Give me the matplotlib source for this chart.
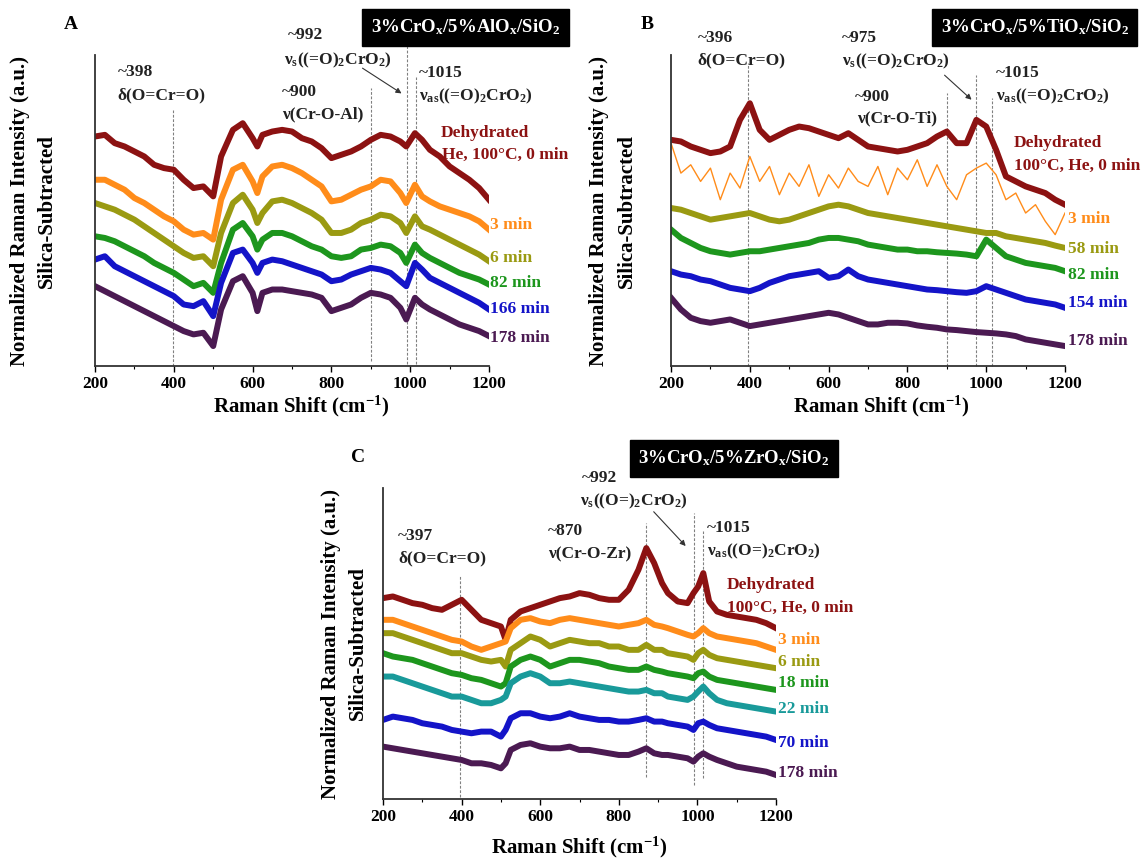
import matplotlib
matplotlib.use("Agg")
import matplotlib.pyplot as plt

plt.rcParams['font.family'] = ['Liberation Serif', 'DejaVu Serif']
plt.rcParams['font.weight'] = 'bold'
plt.rcParams['mathtext.fontset'] = 'custom'
plt.rcParams['mathtext.rm'] = 'Liberation Serif:bold'
plt.rcParams['mathtext.it'] = 'Liberation Serif:bold:italic'
plt.rcParams['mathtext.bf'] = 'Liberation Serif:bold'

# ---------------- data (a.u.) ----------------
# panel A : 3%CrOx/5%AlOx/SiO2
shift_a = [200, 225, 250, 275, 300, 325, 350, 375, 400, 425, 450, 475, 500,
           520, 550, 575, 600, 612, 625,
           650, 675, 700, 725, 750, 775, 800, 825, 850, 875, 900, 925, 950, 975,
           990, 1012, 1030,
           1050, 1075, 1100, 1125, 1150, 1175, 1200]
a_dehyd = [690, 695, 670, 660, 645, 630, 605, 595, 590, 560, 535, 540, 510,
           630, 710, 730, 685, 660, 695,
           705, 710, 705, 685, 675, 655, 625, 635, 645, 660, 680, 695, 690, 675,
           660, 700, 680,
           650, 630, 600, 580, 560, 535, 500]
a_3min = [560, 560, 545, 530, 505, 490, 470, 450, 435, 410, 395, 400, 380,
          500, 590, 605, 555, 520, 570,
          600, 605, 595, 580, 560, 540, 495, 500, 515, 530, 540, 560, 555, 520,
          490, 545, 510,
          495, 480, 470, 460, 450, 435, 410]
a_6min = [490, 480, 470, 455, 440, 420, 400, 380, 360, 340, 325, 330, 300,
          400, 490, 515, 470, 430, 460,
          495, 500, 490, 475, 460, 440, 400, 400, 410, 430, 440, 455, 450, 430,
          400, 450, 420,
          410, 395, 380, 365, 350, 335, 315]
a_82min = [390, 385, 375, 360, 345, 330, 310, 295, 280, 260, 240, 250, 220,
           310, 410, 430, 390, 350, 380,
           400, 400, 390, 375, 360, 350, 330, 325, 330, 350, 355, 365, 360, 340,
           310, 365, 340,
           325, 310, 295, 280, 270, 260, 245]
a_166min = [320, 330, 300, 285, 270, 255, 240, 225, 210, 185, 180, 195, 150,
            250, 340, 350, 310, 280, 310,
            320, 315, 305, 295, 285, 275, 255, 260, 275, 285, 295, 290, 280, 255,
            240, 310, 290,
            265, 250, 235, 220, 205, 190, 170]
a_178min = [240, 225, 210, 195, 180, 165, 150, 135, 120, 105, 95, 100, 60,
            170, 255, 270, 220, 165, 220,
            230, 230, 225, 220, 215, 205, 165, 175, 185, 205, 220, 215, 205, 175,
            140, 205, 185,
            170, 155, 140, 125, 115, 105, 90]

# panel B : 3%CrOx/5%TiOx/SiO2
shift_b = [200, 225, 250, 275, 300, 325, 350, 375, 400, 425, 450, 475, 500,
           525, 550, 575, 600, 625, 650, 675, 700, 725, 750, 775, 800, 825,
           850, 875, 900, 925, 950, 975, 1000, 1025, 1050, 1075, 1100, 1125,
           1150, 1175, 1200]
b_dehyd = [680, 675, 660, 650, 640, 645, 660, 740, 790, 710, 680, 695, 710,
           720, 715, 705, 695, 685, 700, 680, 660, 655, 650, 645, 650, 660,
           670, 690, 705, 670, 670, 740, 720, 650, 570, 555, 540, 530,
           520, 500, 485]
b_3min = [670, 580, 605, 555, 595, 500, 580, 535, 630, 555, 600, 515, 580,
          540, 605, 510, 575, 535, 595, 555, 540, 600, 515, 595, 560, 620,
          540, 605, 540, 500, 575, 595, 610, 575, 500, 520, 460, 485,
          435, 395, 460]
b_58min = [475, 470, 460, 450, 440, 445, 450, 455, 460, 450, 440, 435, 440,
           450, 460, 470, 480, 485, 480, 470, 460, 455, 450, 445, 440, 435,
           430, 425, 420, 415, 410, 405, 400, 400, 390, 385, 380, 375,
           370, 362, 355]
b_82min = [410, 385, 370, 355, 345, 340, 335, 340, 345, 345, 350, 355, 360,
           365, 370, 380, 385, 385, 380, 375, 365, 360, 355, 350, 350, 345,
           345, 342, 340, 338, 335, 330, 380, 355, 330, 320, 310, 305,
           300, 295, 285]
b_154min = [285, 275, 270, 260, 255, 245, 235, 230, 225, 235, 250, 260, 270,
            275, 280, 285, 265, 270, 290, 270, 260, 255, 250, 245, 240, 235,
            230, 228, 225, 222, 220, 225, 240, 230, 220, 210, 200, 195,
            190, 185, 175]
b_178min = [205, 170, 145, 135, 130, 135, 140, 130, 120, 125, 130, 135, 140,
            145, 150, 155, 160, 155, 145, 135, 125, 125, 130, 130, 128, 122,
            118, 115, 110, 108, 105, 102, 100, 98, 95, 90, 80, 75,
            70, 65, 60]

# panel C : 3%CrOx/5%ZrOx/SiO2
shift_c = [200, 225, 250, 275, 300, 325, 350, 375, 400, 425, 450, 475, 500,
           512, 525,
           550, 575, 600, 625, 650, 675, 700, 725, 750, 775, 800, 825, 850,
           870, 890, 910, 925, 950, 975, 990, 1002, 1015, 1030,
           1050, 1075, 1100, 1125, 1150, 1175, 1200]
c_dehyd = [602, 607, 597, 587, 582, 572, 567, 582, 597, 567, 537, 527, 517,
           477, 537,
           562, 572, 582, 592, 602, 607, 617, 612, 602, 597, 597, 627, 687,
           752, 707, 647, 617, 592, 587, 617, 637, 677, 592,
           562, 552, 547, 542, 537, 527, 512]
c_3min = [537, 537, 527, 517, 507, 497, 487, 477, 472, 457, 447, 457, 467,
          472, 512,
          537, 542, 532, 527, 537, 542, 537, 532, 527, 522, 517, 522, 527,
          537, 522, 517, 512, 502, 492, 487, 497, 512, 497,
          487, 482, 477, 472, 467, 457, 447]
c_6min = [497, 497, 487, 477, 467, 457, 447, 437, 437, 427, 417, 412, 417,
          397, 447,
          467, 487, 477, 457, 467, 477, 472, 467, 467, 457, 457, 447, 447,
          462, 447, 447, 437, 432, 427, 417, 437, 447, 432,
          422, 417, 412, 407, 402, 397, 392]
c_18min = [437, 427, 422, 417, 407, 397, 387, 377, 372, 362, 357, 347, 337,
           347, 397,
           417, 427, 417, 397, 407, 417, 417, 412, 407, 397, 392, 387, 387,
           397, 387, 382, 377, 372, 367, 362, 377, 382, 367,
           357, 352, 347, 342, 337, 332, 327]
c_22min = [367, 367, 357, 347, 337, 327, 317, 307, 307, 297, 287, 287, 297,
           307, 347,
           367, 377, 367, 347, 347, 352, 347, 342, 337, 332, 327, 322, 322,
           327, 317, 317, 307, 302, 297, 307, 322, 337, 317,
           297, 287, 282, 277, 272, 267, 262]
c_70min = [237, 247, 242, 237, 227, 222, 217, 207, 202, 197, 202, 202, 187,
           207, 242,
           257, 257, 247, 242, 247, 257, 247, 242, 237, 237, 232, 232, 237,
           242, 232, 232, 227, 222, 217, 207, 227, 232, 222,
           212, 207, 202, 197, 192, 187, 177]
c_178min = [157, 152, 147, 142, 137, 132, 127, 122, 117, 107, 107, 102, 92,
            107, 147,
            162, 167, 157, 152, 152, 157, 147, 147, 142, 137, 132, 132, 142,
            152, 137, 132, 132, 127, 122, 112, 127, 137, 127,
            117, 107, 97, 92, 87, 82, 72]

# peak positions marked with dotted lines (cm-1)
peaks_a = [398, 900, 992, 1015]
peaks_b = [396, 900, 975, 1015]
peaks_c = [397, 870, 992, 1015]

DARK_RED = '#8c1212'
ORANGE = '#ff8c1a'
OLIVE = '#9a9a12'
GREEN = '#1d961d'
TEAL = '#199a9a'
BLUE = '#1414c8'
PURPLE = '#4b1a52'

fig = plt.figure(figsize=(11.42, 8.61), dpi=100)


def setup_axes(rect, top):
    ax = fig.add_axes(rect)
    ax.set_xlim(200, 1200)
    ax.set_ylim(0, top)
    for s in ['top', 'right']:
        ax.spines[s].set_visible(False)
    for s in ['left', 'bottom']:
        ax.spines[s].set_linewidth(1.3)
        ax.spines[s].set_color('#333333')
    ax.set_yticks([])
    ax.set_xticks([200, 400, 600, 800, 1000, 1200])
    ax.set_xticks(range(300, 1200, 200), minor=True)
    ax.tick_params(axis='x', which='major', direction='out', length=4,
                   width=1.0, pad=3, labelsize=12.5)
    ax.tick_params(axis='x', which='minor', direction='out', length=2.5,
                   width=0.8)
    for lab in ax.get_xticklabels():
        lab.set_fontweight('bold')
    return ax


def peak_lines(ax, peaks, spans):
    for p, (y0, y1) in zip(peaks, spans):
        ax.plot([p, p], [y0, y1], color='#808080', lw=0.8,
                ls=(0, (2.5, 1.5)), zorder=1, clip_on=False)


def txt(ax, x, y, s, color='#222222', size=12.5):
    ax.text(x, y, s, color=color, fontsize=size, fontweight='bold',
            ha='left', va='center', clip_on=False)


def box(x, y, s):
    fig.text(x, y, s, color='white', fontsize=13.5, fontweight='bold',
             ha='center', va='center',
             bbox=dict(boxstyle='square,pad=0.45', fc='black', ec='black'))


def ylabels(x1, x2, y):
    fig.text(x1, y, 'Normalized Raman Intensity (a.u.)', rotation=90,
             fontsize=15, fontweight='bold', ha='center', va='center')
    fig.text(x2, y, 'Silica-Subtracted', rotation=90,
             fontsize=15, fontweight='bold', ha='center', va='center')


XLABEL = 'Raman Shift (cm$^{\\mathrm{-1}}$)'
NU_S = '\u03bd$_\\mathrm{s}$((=O)$_\\mathrm{2}$CrO$_\\mathrm{2}$)'
NU_AS = '\u03bd$_\\mathrm{as}$((=O)$_\\mathrm{2}$CrO$_\\mathrm{2}$)'
NU_S_C = '\u03bd$_\\mathrm{s}$((O=)$_\\mathrm{2}$CrO$_\\mathrm{2}$)'
NU_AS_C = '\u03bd$_\\mathrm{as}$((O=)$_\\mathrm{2}$CrO$_\\mathrm{2}$)'
DELTA = '\u03b4(O=Cr=O)'

arrow = dict(arrowstyle='-|>', color='#333333', lw=0.8, mutation_scale=8)
LW = 4.3

# ---------------- panel A ----------------
ax = setup_axes([0.0832, 0.5749, 0.345, 0.3612], 935)
peak_lines(ax, peaks_a, [(0, 770), (15, 835), (5, 965), (5, 870)])
series = [(a_dehyd, DARK_RED), (a_3min, ORANGE), (a_6min, OLIVE),
          (a_82min, GREEN), (a_166min, BLUE), (a_178min, PURPLE)]
for vals, col in series:
    ax.plot(shift_a, vals, color=col, lw=LW, solid_joinstyle='round', zorder=2)
txt(ax, 258, 885, '~398')
txt(ax, 258, 815, DELTA)
txt(ax, 675, 825, '~900')
txt(ax, 675, 755, '\u03bd(Cr-O-Al)')
txt(ax, 690, 995, '~992')
txt(ax, 680, 920, NU_S)
txt(ax, 1022, 880, '~1015')
txt(ax, 1022, 810, NU_AS)
ax.annotate('', xy=(984, 815), xytext=(873, 900), arrowprops=arrow,
            annotation_clip=False)
txt(ax, 1078, 700, 'Dehydrated', DARK_RED)
txt(ax, 1081, 635, 'He, 100\u00b0C, 0 min', DARK_RED)
for name, y, col in [('3 min', 425, ORANGE), ('6 min', 325, OLIVE),
                     ('82 min', 250, GREEN), ('166 min', 170, BLUE),
                     ('178 min', 85, PURPLE)]:
    txt(ax, 1203, y, name, col)
box(0.4076, 0.968, '3%CrO$_\\mathrm{x}$/5%AlO$_\\mathrm{x}$/SiO$_\\mathrm{2}$')
fig.text(0.0622, 0.971, 'A', fontsize=14, fontweight='bold', ha='center',
         va='center')
ylabels(0.0175, 0.0412, 0.755)
fig.text(0.2636, 0.5275, XLABEL, fontsize=15, fontweight='bold',
         ha='center', va='center')

# ---------------- panel B ----------------
ax = setup_axes([0.5876, 0.5749, 0.345, 0.3612], 935)
peak_lines(ax, peaks_b, [(0, 910), (0, 820), (0, 875), (0, 805)])
for vals, col in [(b_dehyd, DARK_RED), (b_58min, OLIVE), (b_82min, GREEN),
                  (b_154min, BLUE), (b_178min, PURPLE)]:
    ax.plot(shift_b, vals, color=col, lw=LW, solid_joinstyle='round', zorder=2)
ax.plot(shift_b, b_3min, color=ORANGE, lw=1.0, zorder=2)
txt(ax, 268, 985, '~396')
txt(ax, 268, 920, DELTA)
txt(ax, 634, 985, '~975')
txt(ax, 634, 915, NU_S)
txt(ax, 667, 810, '~900')
txt(ax, 671, 745, '\u03bd(Cr-O-Ti)')
txt(ax, 1024, 880, '~1015')
txt(ax, 1024, 810, NU_AS)
ax.annotate('', xy=(968, 795), xytext=(889, 880), arrowprops=arrow,
            annotation_clip=False)
txt(ax, 1070, 670, 'Dehydrated', DARK_RED)
txt(ax, 1070, 603, '100\u00b0C, He, 0 min', DARK_RED)
for name, y, col in [('3 min', 443, ORANGE), ('58 min', 352, OLIVE),
                     ('82 min', 275, GREEN), ('154 min', 188, BLUE),
                     ('178 min', 75, PURPLE)]:
    txt(ax, 1207, y, name, col)
box(0.9063, 0.968, '3%CrO$_\\mathrm{x}$/5%TiO$_\\mathrm{x}$/SiO$_\\mathrm{2}$')
fig.text(0.5666, 0.971, 'B', fontsize=14, fontweight='bold', ha='center',
         va='center')
ylabels(0.5245, 0.549, 0.755)
fig.text(0.7715, 0.5275, XLABEL, fontsize=15, fontweight='bold',
         ha='center', va='center')

# ---------------- panel C ----------------
ax = setup_axes([0.3354, 0.0720, 0.3441, 0.3612], 932)
peak_lines(ax, peaks_c, [(7, 667), (67, 827), (42, 857), (62, 802)])
for vals, col in [(c_dehyd, DARK_RED), (c_3min, ORANGE), (c_6min, OLIVE),
                  (c_18min, GREEN), (c_22min, TEAL), (c_70min, BLUE),
                  (c_178min, PURPLE)]:
    ax.plot(shift_c, vals, color=col, lw=LW, solid_joinstyle='round', zorder=2)
txt(ax, 239, 787, '~397')
txt(ax, 239, 722, DELTA)
txt(ax, 620, 802, '~870')
txt(ax, 620, 732, '\u03bd(Cr-O-Zr)')
txt(ax, 707, 962, '~992')
txt(ax, 702, 892, NU_S_C)
txt(ax, 1025, 812, '~1015')
txt(ax, 1025, 742, NU_AS_C)
ax.annotate('', xy=(975, 752), xytext=(884, 867), arrowprops=arrow,
            annotation_clip=False)
txt(ax, 1075, 642, 'Dehydrated', DARK_RED)
txt(ax, 1075, 574, '100\u00b0C, He, 0 min', DARK_RED)
for name, y, col in [('3 min', 477, ORANGE), ('6 min', 410, OLIVE),
                     ('18 min', 347, GREEN), ('22 min', 269, TEAL),
                     ('70 min', 167, BLUE), ('178 min', 77, PURPLE)]:
    txt(ax, 1204, y, name, col)
box(0.6427, 0.4675, '3%CrO$_\\mathrm{x}$/5%ZrO$_\\mathrm{x}$/SiO$_\\mathrm{2}$')
fig.text(0.3135, 0.4692, 'C', fontsize=14, fontweight='bold', ha='center',
         va='center')
ylabels(0.2898, 0.3135, 0.2526)
fig.text(0.507, 0.0155, XLABEL, fontsize=15, fontweight='bold',
         ha='center', va='center')

fig.savefig('out.png', dpi=100)
